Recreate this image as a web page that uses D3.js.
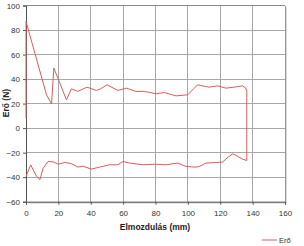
<!DOCTYPE html>
<html><head><meta charset="utf-8">
<script src="https://cdn.jsdelivr.net/npm/d3@7"></script>
<style>body{margin:0;background:#fff}svg{display:block}</style>
</head><body>
<script>
const xTicks = [0,20,40,60,80,100,120,140,160];
const yTicks = [-60,-40,-20,0,20,40,60,80,100];
const seriesName = "Erő";
const xTitle = "Elmozdulás (mm)";
const yTitle = "Erő (N)";
// displacement (mm) and force (N) along the loop
const xs = [0,0,12.7,15.8,17.2,25,28,32,37.7,43.5,46,50,56.8,62,68,73,80.4,85.5,92.7,99.9,106,113,118.4,123.5,128.6,133.7,135.8,136.4,136.4,133.7,129.5,127.6,125,121.4,111.2,107,105,98.9,93.7,86.6,79.4,72.2,64,59.9,56.8,51.7,45.5,40.4,35,32.2,28,24,19.9,16.8,13.7,10.6,8.6,6.6,2.9,0];
const ys = [8,87,27,19.8,49,23,32,30,33.4,30.7,32,35.3,30.7,32.6,29.9,30,28,29,26.3,27.2,35.3,33.4,34.5,32.6,33.4,34.5,32.6,30,-26.4,-25.3,-22,-21,-23.5,-27.7,-28.5,-31.3,-31.8,-31.3,-28.5,-29.9,-29.4,-29.9,-28.5,-27.2,-29.9,-29.9,-31.8,-33.4,-31,-31.8,-29,-28,-29.4,-27.5,-27.2,-32.6,-42,-39.5,-30,-39.5];

const W=304,H=246;
const svg=d3.select("body").append("svg").attr("width",W).attr("height",H);
const x=d3.scaleLinear().domain([0,160]).range([26,285]);
const y=d3.scaleLinear().domain([-60,100]).range([201.7,5.5]);
const font="Liberation Sans, Arial, sans-serif";

// shadow
svg.append("rect").attr("x",x(0)+2).attr("y",y(100)+2).attr("width",x(160)-x(0)).attr("height",y(-60)-y(100)).attr("fill","#d8d8d8");
svg.append("rect").attr("x",x(0)).attr("y",y(100)).attr("width",x(160)-x(0)).attr("height",y(-60)-y(100)).attr("fill","#fff");

// grid
svg.append("g").selectAll("line").data(xTicks.slice(1,-1)).join("line")
 .attr("x1",d=>x(d)).attr("x2",d=>x(d)).attr("y1",y(100)).attr("y2",y(-60)).attr("stroke","#a8a8a8").attr("stroke-width",1).attr("shape-rendering","crispEdges");
svg.append("g").selectAll("line").data(yTicks.slice(1,-1)).join("line")
 .attr("y1",d=>y(d)).attr("y2",d=>y(d)).attr("x1",x(0)).attr("x2",x(160)).attr("stroke","#a8a8a8").attr("stroke-width",1).attr("shape-rendering","crispEdges");
// border top/right
svg.append("line").attr("x1",x(0)).attr("x2",x(160)).attr("y1",y(100)).attr("y2",y(100)).attr("stroke","#888").attr("shape-rendering","crispEdges");
svg.append("line").attr("x1",x(160)).attr("x2",x(160)).attr("y1",y(100)).attr("y2",y(-60)).attr("stroke","#999").attr("shape-rendering","crispEdges");

// axes
const xa=svg.append("g").attr("transform",`translate(0,${y(-60)})`).call(d3.axisBottom(x).tickValues(xTicks).tickSize(3).tickPadding(6));
const ya=svg.append("g").attr("transform",`translate(${x(0)},0)`).call(d3.axisLeft(y).tickValues(yTicks).tickSize(3).tickPadding(3));
[xa,ya].forEach(a=>{a.select(".domain").attr("stroke","#555");a.selectAll(".tick line").attr("stroke","#555");
 a.selectAll("text").attr("font-family",font).attr("font-size",8).attr("fill","#333");});

// line
const pts=xs.map((v,i)=>[v,ys[i]]);
svg.append("path").datum(pts).attr("fill","none").attr("stroke","#e05a5a").attr("stroke-width",1)
 .attr("d",d3.line().x(d=>x(d[0])).y(d=>y(d[1])));

// titles
svg.append("text").attr("x",155).attr("y",230).attr("text-anchor","middle").attr("font-family",font).attr("font-size",8.5).attr("font-weight","bold").attr("fill","#222").text(xTitle);
svg.append("text").attr("transform",`translate(9,${103}) rotate(-90)`).attr("text-anchor","middle").attr("font-family",font).attr("font-size",8.5).attr("font-weight","bold").attr("fill","#222").text(yTitle);

// legend
svg.append("line").attr("x1",262).attr("x2",277).attr("y1",240).attr("y2",240).attr("stroke","#e05a5a").attr("stroke-width",1);
svg.append("text").attr("x",279).attr("y",243).attr("font-family",font).attr("font-size",7.5).attr("fill","#333").text(seriesName);
</script>
</body></html>
